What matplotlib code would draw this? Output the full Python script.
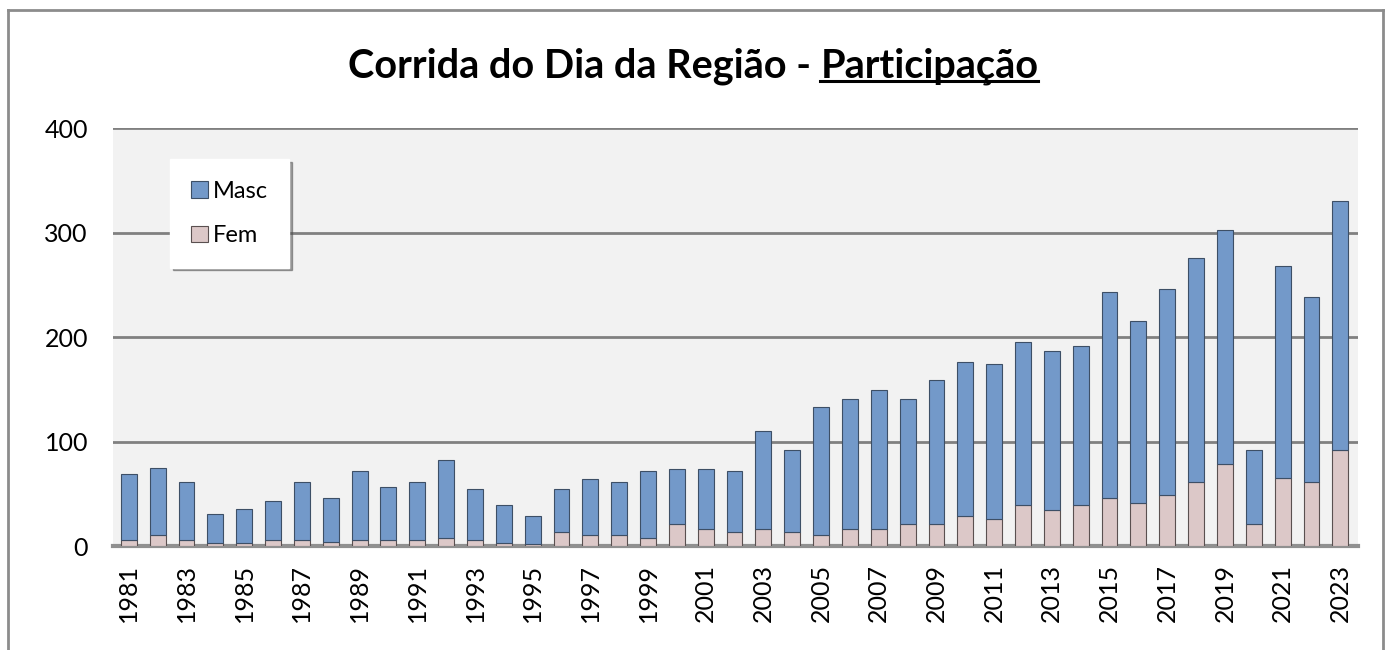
import numpy as np
import matplotlib.pyplot as plt
from matplotlib.lines import Line2D

# Dados
anos = list(range(1981, 2024))
total = [69, 75, 61, 31, 35, 43, 61, 46, 72, 56, 61, 82, 55, 39, 29, 55, 64, 61, 72, 74,
         74, 72, 110, 92, 133, 141, 149, 141, 159, 176, 174, 195, 187, 191, 243, 215, 246,
         276, 302, 92, 268, 238, 330]
fem = [6, 11, 6, 3, 3, 6, 6, 4, 6, 6, 6, 8, 6, 3, 2, 13, 11, 11, 8, 21,
       16, 13, 16, 13, 11, 16, 16, 21, 21, 29, 26, 39, 34, 39, 46, 41, 49,
       61, 78, 21, 65, 61, 92]
masc = [t - f for t, f in zip(total, fem)]

cor_masc = '#7399c9'
cor_fem = '#dcc8c8'

plt.rcParams['font.family'] = ['Lato', 'DejaVu Sans']

fig = plt.figure(figsize=(13.86, 6.5), dpi=100)
ax = fig.add_axes([0.0815, 0.16, 0.898, 0.643])
ax.set_facecolor('#f2f2f2')

x = np.array(anos)
ax.bar(x, fem, width=0.55, color=cor_fem, edgecolor='#5a5050', linewidth=0.8, zorder=3, label='Fem')
ax.bar(x, masc, width=0.55, bottom=fem, color=cor_masc, edgecolor='#3d4f66', linewidth=0.8,
       zorder=3, label='Masc')

ax.set_ylim(0, 400)
ax.set_xlim(1981 - 0.55, 2023 + 0.6)
ax.set_yticks([0, 100, 200, 300, 400])
ax.set_xticks(anos[::2])
ax.set_xticklabels([str(a) for a in anos[::2]], rotation=90, fontsize=18)
ax.tick_params(axis='y', labelsize=18, length=0, pad=18)
ax.tick_params(axis='x', length=0, pad=13)
ax.grid(axis='y', color='#808080', linewidth=2, zorder=1)
for s in ['left', 'right', 'top']:
    ax.spines[s].set_visible(False)
ax.spines['bottom'].set_color('#909090')
ax.spines['bottom'].set_linewidth(3)

# legenda: Masc primeiro
h, l = ax.get_legend_handles_labels()
leg = ax.legend(h[::-1], l[::-1], loc='upper left', bbox_to_anchor=(0.046, 0.925), fontsize=17,
                frameon=True, fancybox=False, shadow=True, labelspacing=1.0,
                handlelength=0.7, handleheight=0.7, handletextpad=0.2, borderpad=0.9,
                borderaxespad=0)
leg.get_frame().set_edgecolor('white')
leg.get_frame().set_facecolor('white')
leg.get_frame().set_alpha(1)

# moldura externa
fig.add_artist(Line2D([0.006, 0.006], [0.0, 0.985], color='#8c8c8c', linewidth=2))
fig.add_artist(Line2D([0.006, 0.998], [0.985, 0.985], color='#8c8c8c', linewidth=2))
fig.add_artist(Line2D([0.998, 0.998], [0.0, 0.985], color='#8c8c8c', linewidth=2))

# título com parte sublinhada
t1 = fig.text(0, 0.881, 'Corrida do Dia da Região - ', fontsize=28.5, fontweight='bold', ha='left', va='baseline')
t2 = fig.text(0, 0.881, 'Participação', fontsize=28.5, fontweight='bold', ha='left', va='baseline')
fig.canvas.draw()
r = fig.canvas.get_renderer()
w1 = t1.get_window_extent(r).width / fig.bbox.width
w2 = t2.get_window_extent(r).width / fig.bbox.width
x0 = 0.5 - (w1 + w2) / 2
t1.set_x(x0)
t2.set_x(x0 + w1)
fig.add_artist(Line2D([x0 + w1, x0 + w1 + w2], [0.875, 0.875], color='black', linewidth=2.2))

fig.savefig('out.png', dpi=100)
